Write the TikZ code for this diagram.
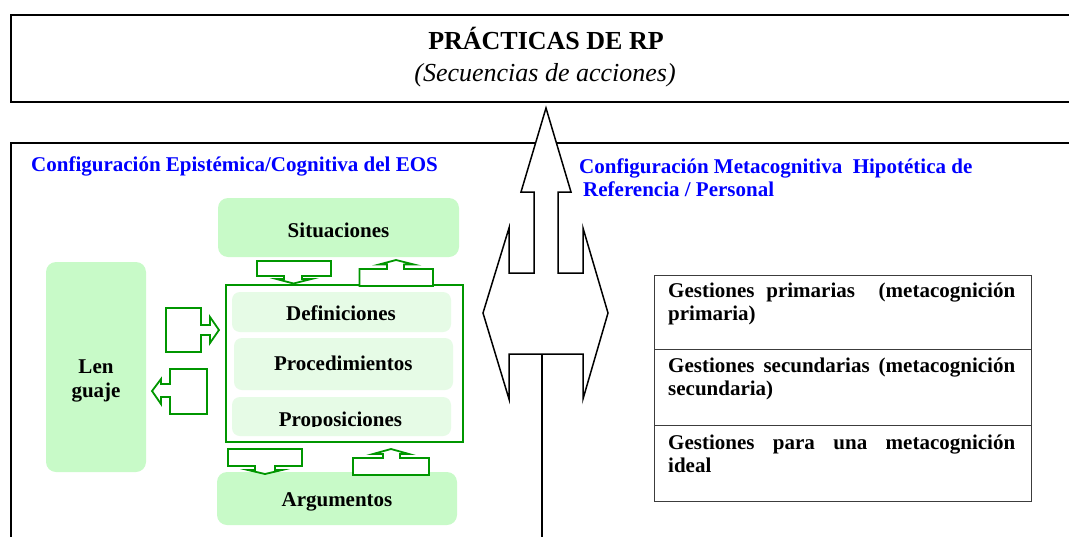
\documentclass[tikz,border=0pt]{standalone}
\usepackage{fontspec}
\setmainfont{Liberation Serif}
\hyphenpenalty=10000
\exhyphenpenalty=10000
\tolerance=10000
\definecolor{gbox}{RGB}{200,250,200}
\definecolor{gin}{RGB}{230,251,230}
\definecolor{gline}{RGB}{0,150,0}
\definecolor{tline}{RGB}{60,60,60}
\definecolor{eosblue}{RGB}{0,0,255}
\begin{document}
\begin{tikzpicture}[x=1pt,y=-1pt,
  blk/.style={draw=black,line width=2pt,inner sep=0pt,anchor=north west},
  gfill/.style={fill=gbox,draw=none,rounded corners=10pt,inner sep=0pt},
  ifill/.style={fill=gin,draw=none,rounded corners=8pt,inner sep=0pt,minimum width=219pt},
  garrow/.style={draw=gline,line width=1.8pt,fill=white,line join=miter},
  lab/.style={font=\bfseries\fontsize{21}{24}\selectfont,inner sep=0pt,anchor=base},
  tabbox/.style={draw=tline,line width=1.3pt,inner sep=0pt,minimum width=377pt,anchor=north west},
  tabtxt/.style={font=\bfseries\fontsize{21}{23}\selectfont,text width=347pt,align=justify,inner sep=0pt,anchor=base west},
  bluetitle/.style={text=eosblue,font=\bfseries\fontsize{21}{23}\selectfont,inner sep=0pt,anchor=base west},
  bigarrow/.style={draw=black,line width=1.5pt,fill=white,line join=miter}
]
\useasboundingbox (0,0) rectangle (1069,536);
\clip (0,0) rectangle (1069,536);

% top box
\node[blk,minimum width=1075pt,minimum height=87pt] (top) at (10,14) {};
\node[font=\bfseries\fontsize{26}{30}\selectfont,inner sep=0pt,anchor=base] (title) at (546,49) {PRÁCTICAS DE RP};
\node[font=\itshape\fontsize{26}{30}\selectfont,inner sep=0pt,anchor=base] (subtitle) at (545,81) {(Secuencias de acciones)};

% configuration box
\node[blk,minimum width=1075pt,minimum height=420pt] (cfg) at (10,142) {};
\node[bluetitle] (eos) at (31,171) {Configuración Epistémica/Cognitiva del EOS};
\node[bluetitle] (meta1) at (579,173) {Configuración Metacognitiva\ \ Hipotética de};
\node[bluetitle] (meta2) at (583,196) {Referencia / Personal};

% green boxes
\node[gfill,minimum width=241pt,minimum height=59pt] (sit) at (338.5,227.5) {};
\node[lab] (sit-t) at (338.5,237) {Situaciones};
\node[gfill,minimum width=100pt,minimum height=210pt] (len) at (96,367) {};
\node[font=\bfseries\fontsize{21}{24}\selectfont,inner sep=0pt,align=center] (len-t) at (96,381) {Len\\guaje};
\node[gfill,minimum width=240pt,minimum height=53pt] (arg) at (337,498.5) {};
\node[lab] (arg-t) at (337,506.7) {Argumentos};

% central box
\node[draw=gline,line width=2pt,fill=white,minimum width=237pt,minimum height=157pt,inner sep=0pt] (core) at (344,363.5) {};
\node[ifill,minimum height=40pt] (def) at (341.5,312) {};
\node[lab] (def-t) at (341,320.7) {Definiciones};
\node[ifill,minimum height=52pt] (proc) at (343.5,364) {};
\node[lab] (proc-t) at (343.3,370) {Procedimientos};
\node[ifill,minimum height=39pt] (prop) at (341.5,416.5) {};
\begin{scope}
\clip (228,395) rectangle (456,426);
\node[lab] (prop-t) at (340.5,426) {Proposiciones};
\end{scope}

% green block arrows
\draw[garrow] (257,261) -- (331,261) -- (331,276) -- (302,276) -- (302,279) -- (311.5,279) -- (293.5,283.5) -- (276.5,279) -- (284,279) -- (284,276) -- (257,276) -- cycle;
\draw[garrow] (359.5,286) -- (359.5,269) -- (387,269) -- (387,264.5) -- (379,264.5) -- (396,260) -- (414,264.5) -- (404,264.5) -- (404,269) -- (433,269) -- (433,286) -- cycle;
\draw[garrow] (166,308) -- (201,308) -- (201,325) -- (210,325) -- (210,317) -- (219,330) -- (210,343) -- (210,335) -- (201,335) -- (201,352) -- (166,352) -- cycle;
\draw[garrow] (207,369) -- (207,414) -- (170,414) -- (170,397) -- (161,397) -- (161,404) -- (152,391) -- (161,379) -- (161,384) -- (170,384) -- (170,369) -- cycle;
\draw[garrow] (228,449) -- (302,449) -- (302,466) -- (275,466) -- (275,470) -- (282,470) -- (265,474) -- (248,470) -- (255,470) -- (255,466) -- (228,466) -- cycle;
\draw[garrow] (353,475) -- (353,458) -- (383,458) -- (383,454) -- (373,454) -- (391,449) -- (409,454) -- (400,454) -- (400,458) -- (429,458) -- (429,475) -- cycle;

% big double arrow
\draw[bigarrow] (546,108) -- (571,192) -- (558,192) -- (558,273) -- (583,273) -- (583,228) -- (608,313) -- (583,399) -- (583,354) -- (509,354) -- (509,399) -- (483,313) -- (509,228) -- (509,273) -- (534,273) -- (534,192) -- (521,192) -- cycle;
\coordinate (stemtop) at (542,354);
\coordinate (stembot) at (542,540);
\draw[line width=1.5pt] (stemtop) -- (stembot);

% table
\node[tabbox,minimum height=74pt] (g1) at (654,275) {};
\node[tabbox,minimum height=76pt] (g2) at (654,349) {};
\node[tabbox,minimum height=76pt] (g3) at (654,425) {};
\node[tabtxt] (g1-t) at (668,297) {Gestiones primarias\ \ (metacognición\linebreak primaria)};
\node[tabtxt] (g2-t) at (668,372) {Gestiones secundarias (metacognición\linebreak secundaria)};
\node[tabtxt] (g3-t) at (668,449) {Gestiones para una metacognición\linebreak ideal};
\end{tikzpicture}
\end{document}
